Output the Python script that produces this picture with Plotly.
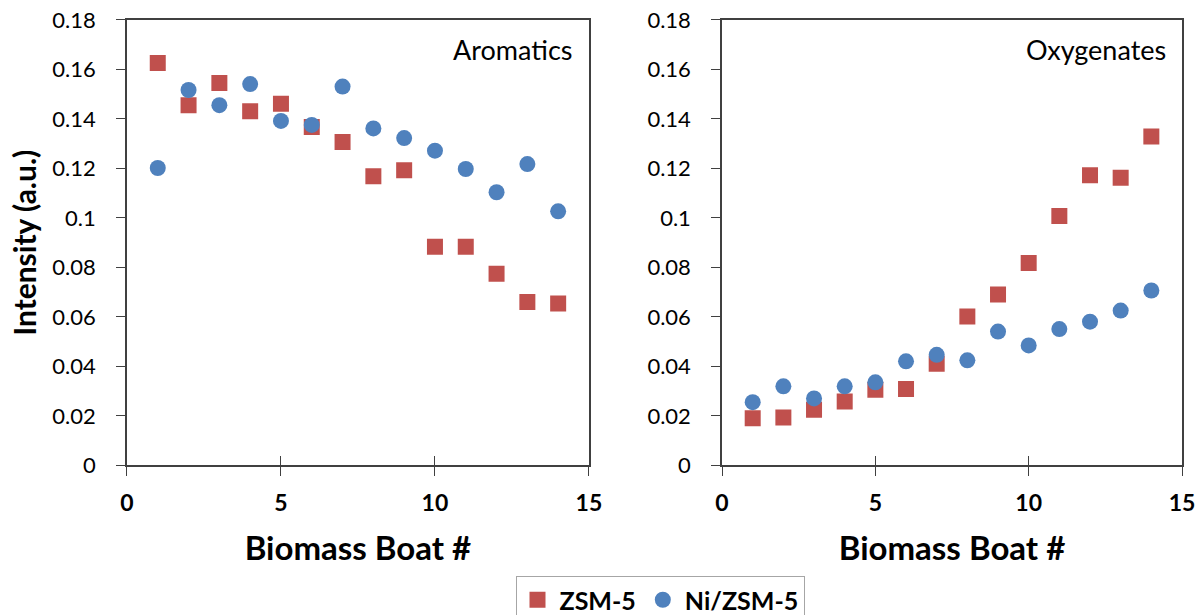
import plotly.graph_objects as go

boats = list(range(1, 15))

arom_zsm5 = [0.1626, 0.1456, 0.1545, 0.1431, 0.1462, 0.1368, 0.1307, 0.1169, 0.1193, 0.0884, 0.0884, 0.0775, 0.0661, 0.0655]
arom_ni = [0.1202, 0.1517, 0.1456, 0.1541, 0.1392, 0.1376, 0.1531, 0.1362, 0.1323, 0.1272, 0.1198, 0.1104, 0.1218, 0.1027]

oxy_zsm5 = [0.0191, 0.0194, 0.0225, 0.0259, 0.0306, 0.0309, 0.0411, 0.0602, 0.0691, 0.0818, 0.1008, 0.1173, 0.1163, 0.1329]
oxy_ni = [0.0256, 0.0320, 0.0271, 0.0320, 0.0336, 0.0421, 0.0447, 0.0425, 0.0541, 0.0485, 0.0551, 0.0581, 0.0626, 0.0707]

y_tickvals = [0, 0.02, 0.04, 0.06, 0.08, 0.10, 0.12, 0.14, 0.16, 0.18]
y_ticktext = ["0", "0.02", "0.04", "0.06", "0.08", "0.1", "0.12", "0.14", "0.16", "0.18"]
x_tickvals = [0, 5, 10, 15]

panel_labels = ["Aromatics", "Oxygenates"]
series_names = ["ZSM-5", "Ni/ZSM-5"]

RED = "#C0504D"
BLUE = "#4F81BD"
FONT = "Lato"
AXC = "#404040"

fig = go.Figure()

def add(x, y, name, color, symbol, xa, ya, show):
    fig.add_trace(go.Scatter(
        x=x, y=y, mode="markers", name=name,
        marker=dict(color=color, symbol=symbol, size=16, line=dict(width=0)),
        xaxis=xa, yaxis=ya, showlegend=show, legendgroup=name,
    ))

add(boats, arom_zsm5, series_names[0], RED, "square", "x", "y", True)
add(boats, arom_ni, series_names[1], BLUE, "circle", "x", "y", True)
add(boats, oxy_zsm5, series_names[0], RED, "square", "x2", "y2", False)
add(boats, oxy_ni, series_names[1], BLUE, "circle", "x2", "y2", False)

# empty traces so the overlay tick axes get drawn
fig.add_trace(go.Scatter(x=[], y=[], xaxis="x3", yaxis="y", showlegend=False))
fig.add_trace(go.Scatter(x=[], y=[], xaxis="x4", yaxis="y2", showlegend=False))

ydom = [0.2431, 0.9675]

xcommon = dict(
    range=[0, 15], tickvals=x_tickvals, ticks="outside", ticklen=9, tickwidth=1.3,
    tickcolor=AXC, showline=True, linecolor=AXC, linewidth=1.5, mirror=True,
    showgrid=False, zeroline=False, ticklabelstandoff=7, automargin=False,
    tickfont=dict(family=FONT, size=23, color="black", weight="bold"),
    title=dict(text="Biomass Boat #", standoff=22,
               font=dict(family=FONT, size=33, color="black", weight="bold")),
)
ycommon = dict(
    range=[0, 0.18], tickvals=y_tickvals, ticktext=y_ticktext, ticks="outside",
    ticklen=9, tickwidth=1.3, tickcolor=AXC, showline=True, linecolor=AXC,
    linewidth=1.5, mirror=True, showgrid=False, zeroline=False,
    ticklabelstandoff=16, automargin=False,
    tickfont=dict(family=FONT, size=22, color="black"),
)
overlay = dict(range=[0, 15], tickvals=x_tickvals, ticks="inside", ticklen=9,
               tickwidth=1.3, tickcolor=AXC, showticklabels=False, showline=False,
               showgrid=False, zeroline=False, automargin=False)

fig.update_layout(
    width=1200, height=615,
    margin=dict(l=0, r=0, t=0, b=0, autoexpand=False),
    paper_bgcolor="white", plot_bgcolor="white",
    xaxis=dict(domain=[0.1058, 0.4908], anchor="y", **xcommon),
    xaxis2=dict(domain=[0.6017, 0.985], anchor="y2", **xcommon),
    xaxis3=dict(overlaying="x", anchor="y", **overlay),
    xaxis4=dict(overlaying="x2", anchor="y2", **overlay),
    yaxis=dict(domain=ydom, anchor="x",
               title=dict(text="Intensity (a.u.)", standoff=7,
                          font=dict(family=FONT, size=30, color="black", weight="bold")),
               **ycommon),
    yaxis2=dict(domain=ydom, anchor="x2", **ycommon),
    legend=dict(orientation="h", x=0.55, xanchor="center", y=0.0634, yanchor="top",
                bordercolor="#A6A6A6", borderwidth=1,
                font=dict(family=FONT, size=25, color="black", weight="bold"),
                itemwidth=34),
    showlegend=True,
)

fig.add_annotation(text=panel_labels[0], xref="x domain", yref="y domain", x=0.9675, y=0.933,
                   xanchor="right", yanchor="middle", showarrow=False,
                   font=dict(family=FONT, size=27, color="black"))
fig.add_annotation(text=panel_labels[1], xref="x2 domain", yref="y2 domain", x=0.9696, y=0.933,
                   xanchor="right", yanchor="middle", showarrow=False,
                   font=dict(family=FONT, size=27, color="black"))

fig.write_html("out.html")
